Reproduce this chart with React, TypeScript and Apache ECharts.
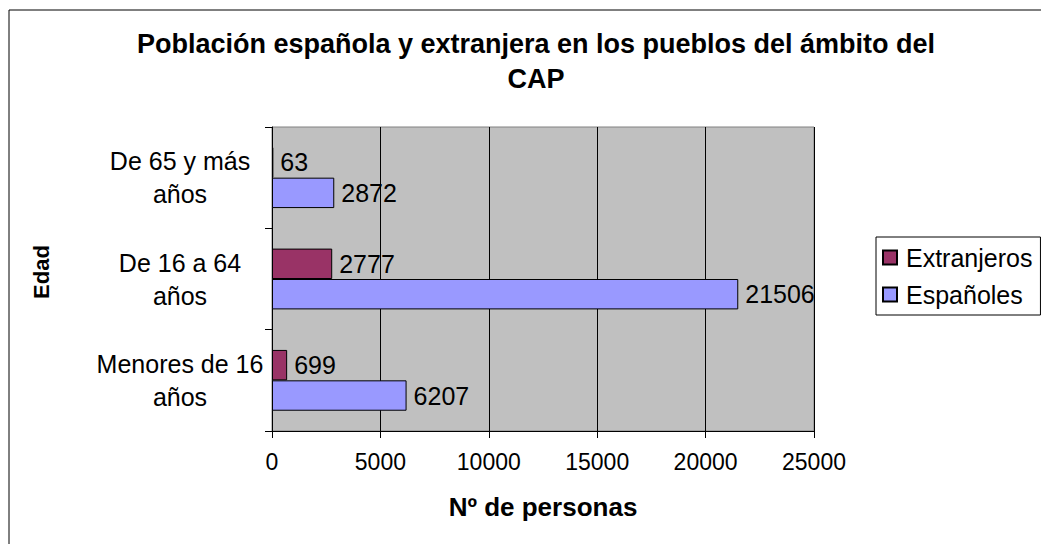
import React, { useEffect, useRef } from "react";
import * as echarts from "echarts";

const categories = ["Menores de 16\naños", "De 16 a 64\naños", "De 65 y más\naños"];
const extranjeros = [699, 2777, 63];
const espanoles = [6207, 21506, 2872];
const xTicks = { min: 0, max: 25000, interval: 5000 };

const FONT = "'Liberation Sans', Arial, sans-serif";

export default function App() {
  const ref = useRef<HTMLDivElement>(null);
  useEffect(() => {
    if (!ref.current) return;
    const chart = echarts.init(ref.current, undefined, { renderer: "svg" });
    const label = {
      show: true,
      position: "right",
      color: "#000",
      fontSize: 25,
      fontFamily: FONT,
      distance: 7,
    };
    chart.setOption({
      animation: false,
      backgroundColor: "#fff",
      textStyle: { fontFamily: FONT },
      title: {
        text: "Población española y extranjera en los pueblos del ámbito del\nCAP",
        left: 531,
        textAlign: "center",
        top: 21,
        textStyle: { fontSize: 27, fontWeight: "bold", color: "#000", lineHeight: 35, fontFamily: FONT },
      },
      graphic: [
        {
          type: "rect",
          shape: { x: 9, y: 10, width: 1100, height: 600 },
          style: { fill: "none", stroke: "#000", lineWidth: 1 },
          silent: true,
          z: -1,
        },
        {
          type: "text",
          x: 41,
          y: 272,
          rotation: Math.PI / 2,
          style: {
            text: "Edad",
            fill: "#000",
            font: "bold 22px 'Liberation Sans', Arial, sans-serif",
            align: "center",
            verticalAlign: "middle",
          },
          silent: true,
        },
      ],
      legend: {
        orient: "vertical",
        left: 876,
        top: 237,
        backgroundColor: "#fff",
        borderColor: "#000",
        borderWidth: 1,
        padding: [8, 8, 8, 6],
        itemWidth: 14,
        itemHeight: 14,
        itemGap: 12,
        icon: "rect",
        textStyle: { fontSize: 25, color: "#000", fontFamily: FONT, padding: [0, 0, 0, 4] },
        data: ["Extranjeros", "Españoles"],
      },
      grid: {
        left: 272,
        right: 227,
        top: 127,
        bottom: 113,
        show: true,
        backgroundColor: "#c0c0c0",
        borderColor: "#808080",
        borderWidth: 1,
      },
      xAxis: {
        type: "value",
        min: xTicks.min,
        max: xTicks.max,
        interval: xTicks.interval,
        name: "Nº de personas",
        nameLocation: "middle",
        nameGap: 63,
        nameTextStyle: { fontSize: 26, fontWeight: "bold", color: "#000", fontFamily: FONT },
        axisLine: { show: true, lineStyle: { color: "#000", width: 1 } },
        axisTick: { show: true, length: 7, lineStyle: { color: "#000" } },
        axisLabel: {
          color: "#000",
          fontSize: 23,
          margin: 19,
          fontFamily: FONT,
          formatter: (v: number) => String(v),
        },
        splitLine: { show: true, lineStyle: { color: "#000", width: 1 } },
      },
      yAxis: {
        type: "category",
        data: categories,
        axisLine: { show: true, lineStyle: { color: "#000", width: 1 } },
        axisTick: { show: true, length: 7, lineStyle: { color: "#000" } },
        axisLabel: {
          color: "#000",
          fontSize: 25,
          lineHeight: 33,
          align: "center",
          margin: 92,
          fontFamily: FONT,
        },
        splitLine: { show: false },
      },
      series: [
        {
          name: "Extranjeros",
          type: "bar",
          data: extranjeros,
          barGap: "0%",
          barCategoryGap: "40%",
          itemStyle: { color: "#993366", borderColor: "#000", borderWidth: 1 },
          label,
        },
        {
          name: "Españoles",
          type: "bar",
          data: espanoles,
          barGap: "0%",
          barCategoryGap: "40%",
          itemStyle: { color: "#9999ff", borderColor: "#000", borderWidth: 1 },
          label,
        },
      ],
    });
    return () => chart.dispose();
  }, []);
  return (
    <div
      ref={ref}
      style={{ position: "fixed", left: 0, top: 0, width: 1041, height: 544 }}
    />
  );
}
